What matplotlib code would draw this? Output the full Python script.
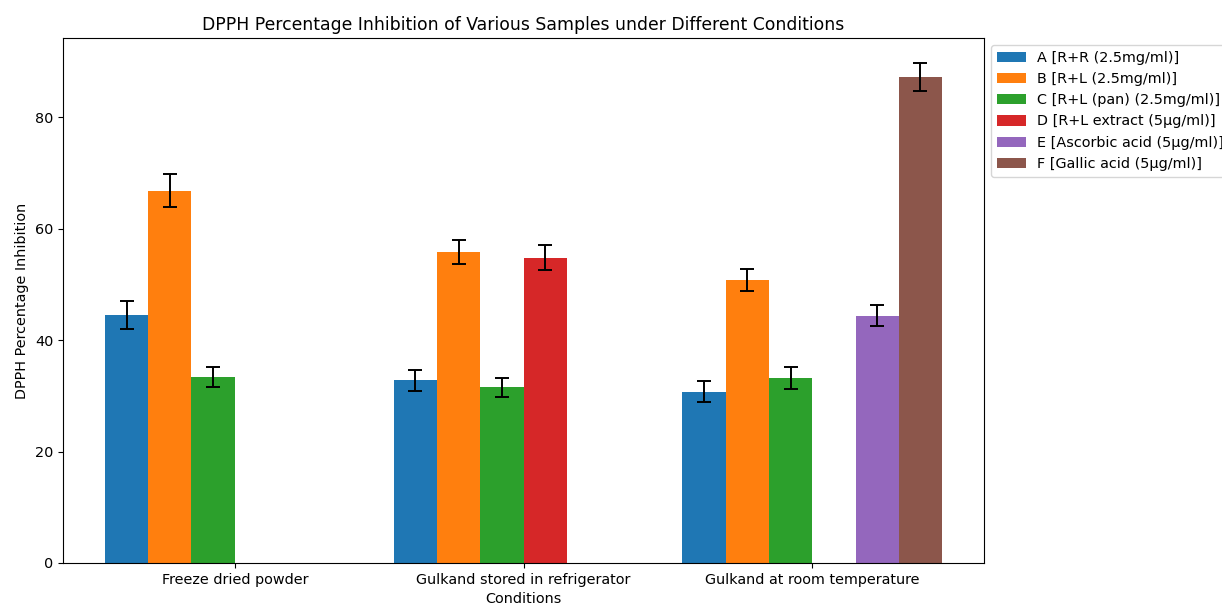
import matplotlib
matplotlib.use("Agg")
import matplotlib.pyplot as plt
import numpy as np

plt.rcParams['font.size'] = 10.35
plt.rcParams['axes.titlesize'] = 12.4

conditions = ["Freeze dried powder", "Gulkand stored in refrigerator", "Gulkand at room temperature"]
labels = ["A [R+R (2.5mg/ml)]", "B [R+L (2.5mg/ml)]", "C [R+L (pan) (2.5mg/ml)]",
          "D [R+L extract (5µg/ml)]", "E [Ascorbic acid (5µg/ml)]", "F [Gallic acid (5µg/ml)]"]

A_vals = [44.5, 32.8, 30.7]
A_err = [2.5, 1.9, 1.9]
B_vals = [66.8, 55.8, 50.8]
B_err = [3.0, 2.2, 2.0]
C_vals = [33.4, 31.5, 33.2]
C_err = [1.8, 1.7, 1.9]
D_vals = [0, 54.8, 0]
D_err = [0, 2.25, 0]
E_vals = [0, 0, 44.4]
E_err = [0, 0, 1.8]
F_vals = [0, 0, 87.2]
F_err = [0, 0, 2.5]

series = [A_vals, B_vals, C_vals, D_vals, E_vals, F_vals]
errors = [A_err, B_err, C_err, D_err, E_err, F_err]

fig = plt.figure(figsize=(12.22, 6.05), dpi=100)
ax = fig.add_axes([63/1222, 1-563/605, (984-63)/1222, (563-38)/605])

x = np.arange(len(conditions))
width = 0.15
for j, (vals, errs, lab) in enumerate(zip(series, errors, labels)):
    vals = np.array(vals, dtype=float)
    errs = np.array(errs, dtype=float)
    yerr = np.where(vals > 0, errs, np.nan)
    ax.bar(x + (j - 2.5) * width, vals, width, yerr=yerr, capsize=5, label=lab,
           error_kw=dict(ecolor='black', elinewidth=1.4, capthick=1.4))

ax.set_xticks(x)
ax.set_xticklabels(conditions)
ax.set_xlabel("Conditions")
ax.set_ylabel("DPPH Percentage Inhibition")
ax.set_title("DPPH Percentage Inhibition of Various Samples under Different Conditions")
ax.legend(loc='upper left', bbox_to_anchor=(1, 1))

fig.savefig("out.png", dpi=100)
